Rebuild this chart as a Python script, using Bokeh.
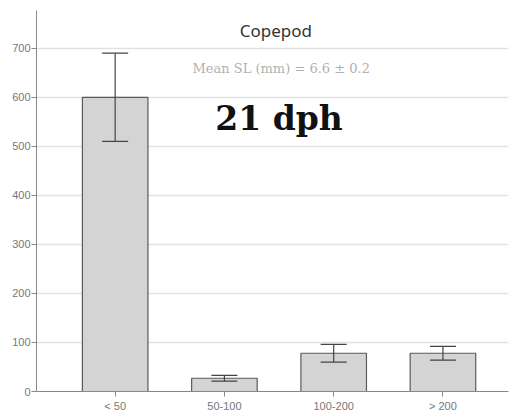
from bokeh.plotting import figure
from bokeh.models import ColumnDataSource, FixedTicker, Label
from bokeh.embed import file_html
from bokeh.resources import INLINE

# Copepod prey size classes (um) eaten at 21 dph
size_classes = ["< 50", "50-100", "100-200", "> 200"]
mean_counts = [600, 27, 78, 78]
error = [90, 6, 18, 14]

xpos = list(range(1, len(size_classes) + 1))
src = ColumnDataSource(dict(
    x=xpos,
    top=mean_counts,
    upper=[m + e for m, e in zip(mean_counts, error)],
    lower=[m - e for m, e in zip(mean_counts, error)],
))

p = figure(width=515, height=415, output_backend="svg", toolbar_location=None,
           x_range=(0.28, 4.6), y_range=(0, 777),
           min_border_left=36, min_border_right=7, min_border_top=10, min_border_bottom=24)
p.outline_line_color = None
p.background_fill_color = "white"
p.border_fill_color = "white"

p.vbar(x="x", top="top", bottom=0, width=0.6, source=src,
       fill_color="#d4d4d4", line_color="#5a5a5a", line_width=1.2)

# error bars drawn on top of the bars
err_col = "#444444"
p.segment(x0="x", y0="lower", x1="x", y1="upper", source=src,
          line_color=err_col, line_width=1.2)
p.scatter(x="x", y="upper", source=src, marker="dash", size=26,
          line_color=err_col, line_width=1.2)
p.scatter(x="x", y="lower", source=src, marker="dash", size=26,
          line_color=err_col, line_width=1.2)

# axes
p.xaxis.ticker = FixedTicker(ticks=xpos)
p.xaxis.major_label_overrides = {i: s for i, s in zip(xpos, size_classes)}
p.yaxis.ticker = FixedTicker(ticks=[0, 100, 200, 300, 400, 500, 600, 700])
for ax in (p.xaxis[0], p.yaxis[0]):
    ax.axis_line_color = "#888888"
    ax.major_tick_line_color = "#888888"
    ax.major_tick_out = 5
    ax.major_tick_in = 0
    ax.minor_tick_line_color = None
    ax.major_label_text_color = "#777777"
    ax.major_label_text_font = "Liberation Sans"
    ax.major_label_text_font_size = "11px"
p.yaxis.major_label_standoff = 1
p.xaxis.major_label_standoff = 3

p.xgrid.grid_line_color = None
p.ygrid.grid_line_color = "#e2e2e2"
p.ygrid.grid_line_width = 1.5

p.add_layout(Label(x=2.47, y=737, text="Copepod", text_align="center",
                   text_baseline="middle", text_font="Noto Sans",
                   text_font_size="17px", text_color="#333333"))
p.add_layout(Label(x=2.52, y=659, text="Mean SL (mm) = 6.6 \u00b1 0.2", text_align="center",
                   text_baseline="middle", text_font="DejaVu Serif",
                   text_font_size="13px", text_color="#b0b0b0"))
p.add_layout(Label(x=2.5, y=556, text="21 dph", text_align="center",
                   text_baseline="middle", text_font="DejaVu Serif",
                   text_font_style="bold", text_font_size="33px", text_color="#111111"))

open("out.html", "w").write(file_html(p, INLINE))
